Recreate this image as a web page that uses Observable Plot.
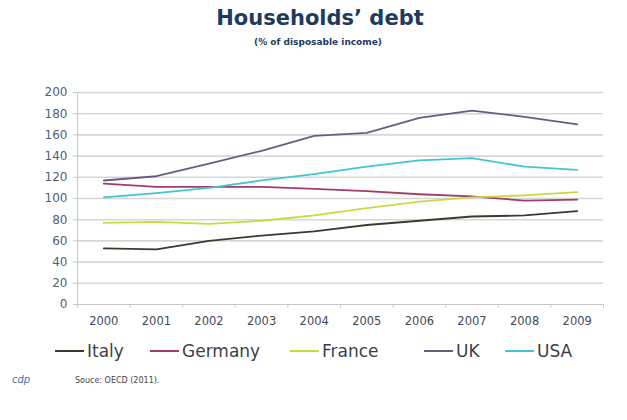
<!DOCTYPE html>
<html>
<head>
<meta charset="utf-8">
<script src="https://cdn.jsdelivr.net/npm/d3@7"></script>
<script src="https://cdn.jsdelivr.net/npm/@observablehq/plot@0.6"></script>
<style>
  html, body { margin: 0; padding: 0; background: #fff; width: 627px; height: 420px; overflow: hidden; position: relative; font-family: "DejaVu Sans", Verdana, sans-serif; }
  #title { position: absolute; top: 6px; left: 0; width: 640px; text-align: center; font-weight: bold; font-size: 21px; color: #1f3a5f; }
  #subtitle { position: absolute; top: 37px; left: 0; width: 636px; text-align: center; font-weight: bold; font-size: 9px; color: #1f3a5f; }
  #chart { position: absolute; top: 0; left: 0; }
  .leg { position: absolute; top: 341px; font-size: 17px; color: #3a3f4a; display: flex; align-items: center; }
  .leg span.sw { display: inline-block; width: 29px; height: 2px; margin-right: 3px; }
  #source { position: absolute; top: 376px; left: 75px; font-size: 8px; color: #444; }
  #logo { position: absolute; top: 374px; left: 12px; font-size: 10px; font-style: italic; color: #4a6fa5; }
</style>
</head>
<body>
<div id="title">Households’ debt</div>
<div id="subtitle">(% of disposable income)</div>
<div id="chart"></div>
<div id="legend"></div>
<div id="logo">cdp</div>
<div id="source">Souce: OECD (2011).</div>
<script>
const years = [2000, 2001, 2002, 2003, 2004, 2005, 2006, 2007, 2008, 2009];
const countries = ["Italy", "Germany", "France", "UK", "USA"];
const colors = ["#3b3b2c", "#a33a6e", "#c9d93f", "#6b5b82", "#43c6d0"];
const italy   = [53, 52, 60, 65, 69, 75, 79, 83, 84, 88];
const germany = [114, 111, 111, 111, 109, 107, 104, 102, 98, 99];
const france  = [77, 78, 76, 79, 84, 91, 97, 101, 103, 106];
const uk      = [117, 121, 133, 145, 159, 162, 176, 183, 177, 170];
const usa     = [101, 105, 110, 117, 123, 130, 136, 138, 130, 127];
const yTicks = [0, 20, 40, 60, 80, 100, 120, 140, 160, 180, 200];
const legendX = [55, 150, 290, 424, 505];

const series = [italy, germany, france, uk, usa];
const data = [];
countries.forEach((c, i) => years.forEach((y, j) => data.push({country: c, year: y, value: series[i][j]})));
const bounds = years.map(y => y - 0.5).concat([years[years.length - 1] + 0.5]);

const chart = Plot.plot({
  width: 627,
  height: 340,
  marginTop: 92,
  marginBottom: 36,
  marginLeft: 77,
  marginRight: 24,
  style: { fontFamily: "DejaVu Sans, Verdana, sans-serif", fontSize: "11px", background: "transparent" },
  x: { type: "linear", domain: [years[0] - 0.5, years[years.length - 1] + 0.5] },
  y: { type: "linear", domain: [0, 200] },
  color: { domain: countries, range: colors },
  marks: [
    Plot.gridY({ ticks: yTicks.filter(d => d > 0), stroke: "#d6d6d6", strokeOpacity: 1, strokeWidth: 1.6 }),
    Plot.ruleX([years[0] - 0.5], { stroke: "#c8c8c8" }),
    Plot.ruleY([0], { stroke: "#c8c8c8" }),
    Plot.axisY({ ticks: yTicks, tickSize: 4, tickPadding: 6, stroke: "#c8c8c8", fill: "#4f5f78", fontSize: 12, label: null, tickFormat: d => String(d) }),
    Plot.ruleX(bounds, { x: d => d, y1: 0, y2: -3.5, stroke: "#c8c8c8" }),
    Plot.axisX({ ticks: years, tickSize: 0, tickPadding: 12, fill: "#3f4a5a", fontSize: 11.5, label: null, tickFormat: d => String(d) }),
    Plot.line(data, { x: "year", y: "value", stroke: "country", z: "country", strokeWidth: 1.8, curve: "linear" })
  ]
});
document.getElementById("chart").appendChild(chart);

const legend = document.getElementById("legend");
countries.forEach((c, i) => {
  const d = document.createElement("div");
  d.className = "leg";
  d.style.left = legendX[i] + "px";
  d.innerHTML = `<span class="sw" style="background:${colors[i]}"></span>${c}`;
  legend.appendChild(d);
});
</script>
</body>
</html>
